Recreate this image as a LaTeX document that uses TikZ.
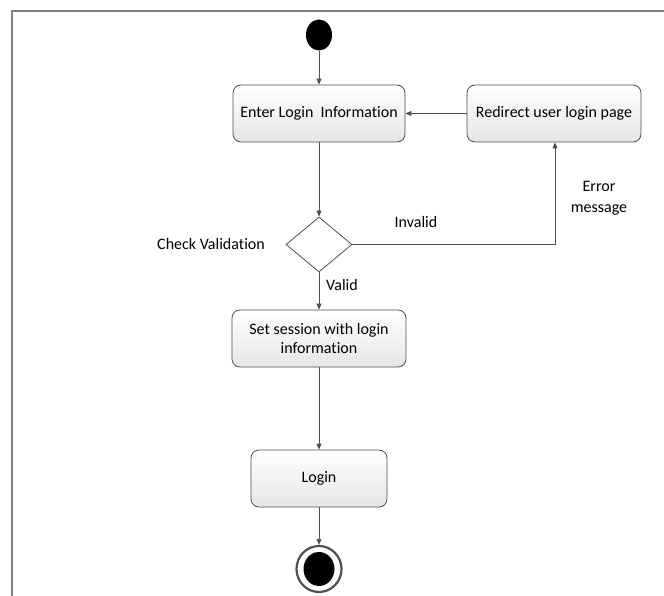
\documentclass[tikz,border=0pt]{standalone}
\usepackage{fontspec}
\setmainfont[Ligatures={NoCommon,NoRequired,NoContextual}]{Carlito}
\usetikzlibrary{shapes.geometric,arrows.meta}
\definecolor{linec}{HTML}{505050}
\definecolor{boxtop}{HTML}{FFFFFF}
\definecolor{boxbot}{HTML}{E6E6E6}
\tikzset{
  actbox/.style={draw=linec, line width=0.8pt, rounded corners=8pt, top color=boxtop, bottom color=boxbot, align=center, font=\fontsize{16}{19}\selectfont, inner sep=0pt},
  flow/.style={draw=linec, line width=0.8pt, -{Triangle[length=6pt,width=5pt]}},
  lbl/.style={font=\fontsize{16}{19}\selectfont, align=center, inner sep=0pt},
}
\begin{document}
\begin{tikzpicture}[x=1pt,y=-1pt]
\useasboundingbox (0,0) rectangle (664,596);
\draw[color=gray, line width=1.2pt] (12,596) -- (12,11) -- (664,11);
\node[fill=black, ellipse, minimum width=26pt, minimum height=31pt, inner sep=0pt] (start) at (319,35) {};
\node[actbox, minimum width=172pt, minimum height=57pt] (enter) at (319,113.5) {Enter Login\ \ Information};
\node[actbox, minimum width=174pt, minimum height=57pt] (redir) at (554,113.5) {Redirect user login page};
\node[draw=linec, line width=0.8pt, fill=white, diamond, minimum width=66pt, minimum height=55pt, inner sep=0pt, aspect=1.2] (dec) at (319,244.5) {};
\node[actbox, minimum width=174pt, minimum height=57pt] (sess) at (319,338.5) {Set session with login\\information};
\node[actbox, minimum width=136pt, minimum height=57pt] (login) at (319,478.5) {Login};
\node[draw=linec, line width=2.2pt, ellipse, minimum width=45pt, minimum height=46pt, inner sep=0pt] (endo) at (319,569) {};
\node[fill=black, ellipse, minimum width=31pt, minimum height=34pt, inner sep=0pt] (endi) at (319,569) {};
\coordinate (corner) at (555,244.5);
\draw[flow] (start) -- (enter);
\draw[flow] (redir) -- (enter);
\draw[flow] (enter) -- (dec);
\draw[flow] (dec.east) -- (corner) -- (redir.south -| corner);
\draw[flow] (dec) -- (sess);
\draw[flow] (sess) -- (login);
\draw[flow] (login) -- (endo);
\node[lbl] (inv) at (416,222) {Invalid};
\node[lbl] (err) at (599,198) {Error\\[2pt]message};
\node[lbl] (chk) at (211,244) {Check Validation};
\node[lbl] (val) at (342,285) {Valid};
\end{tikzpicture}
\end{document}
